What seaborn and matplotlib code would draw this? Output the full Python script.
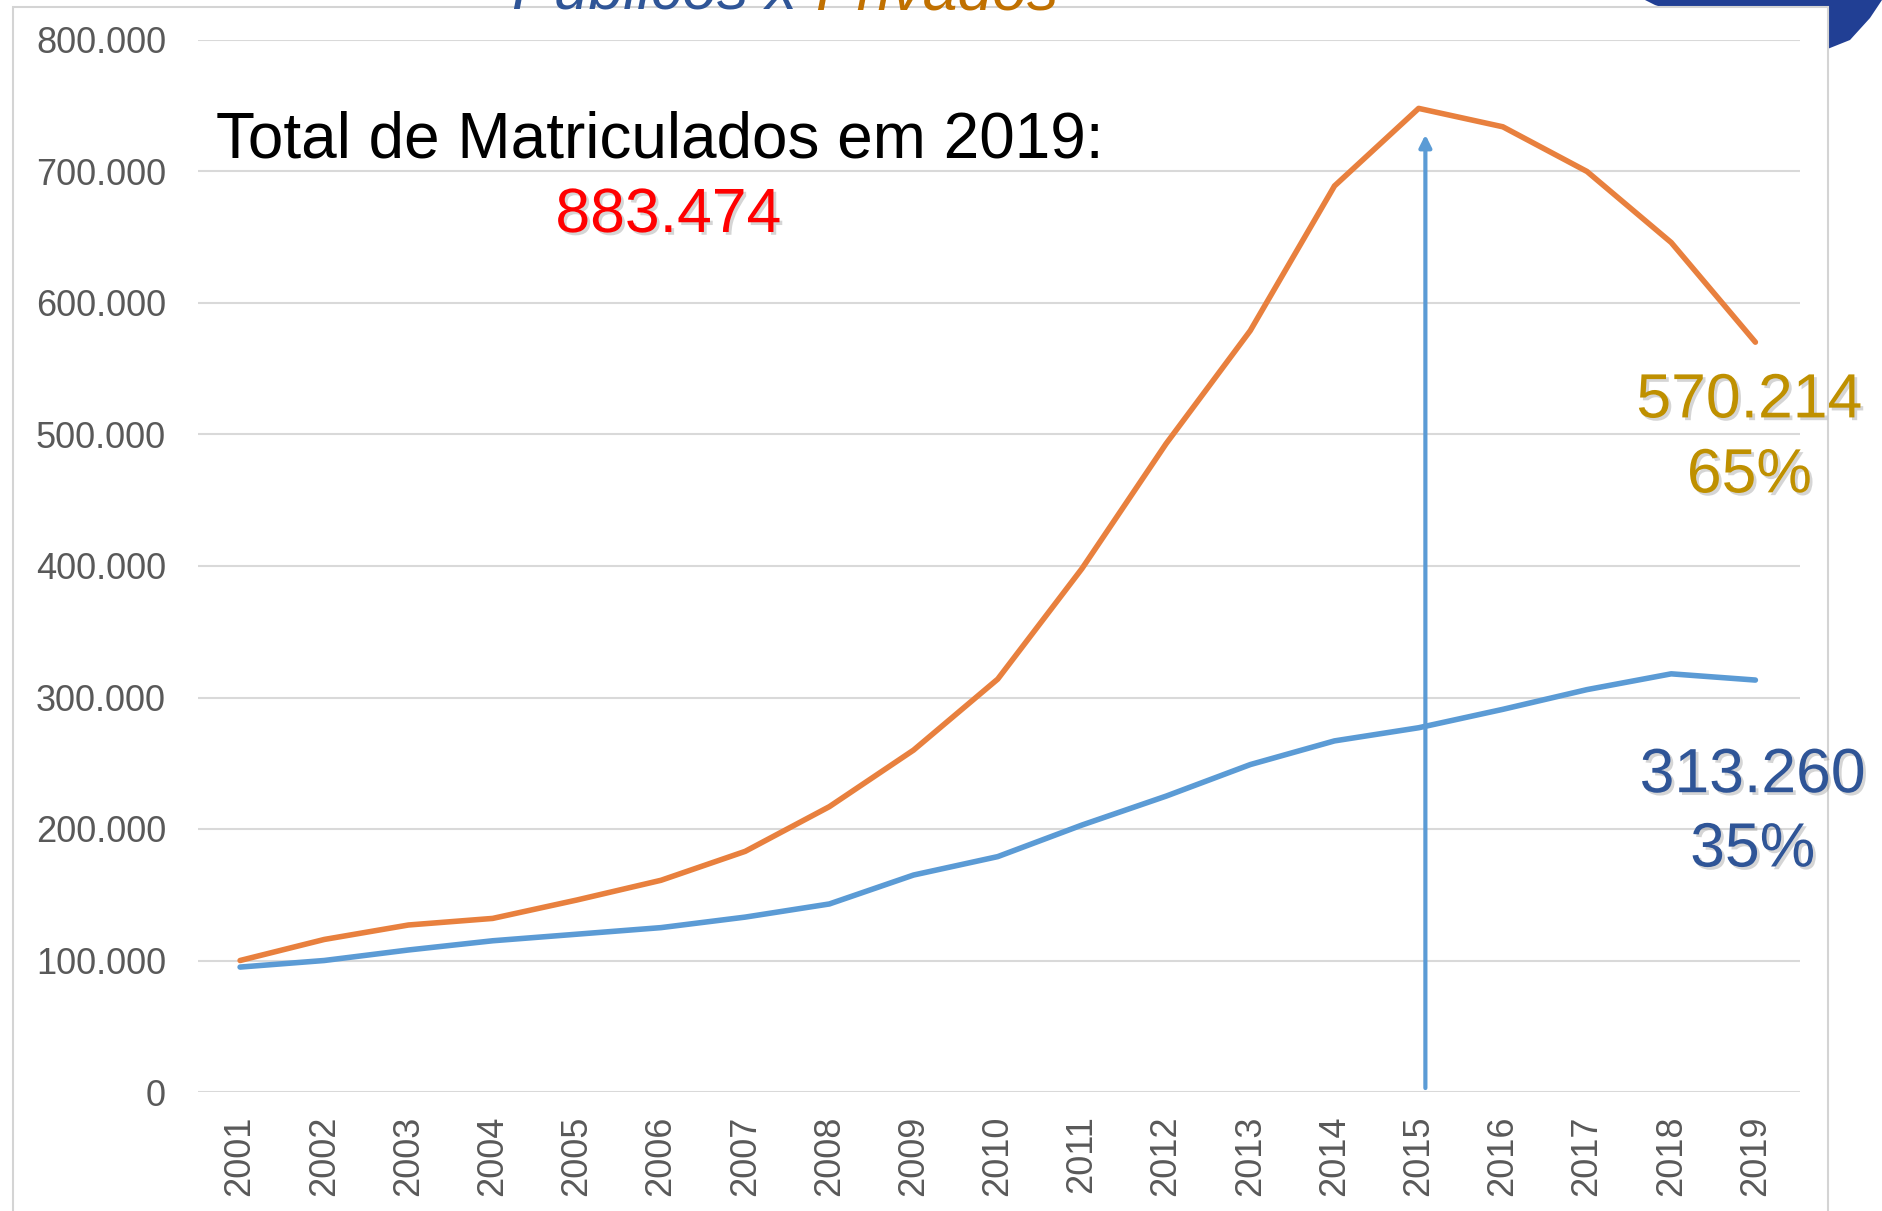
import matplotlib
matplotlib.use("Agg")
import matplotlib.pyplot as plt
import matplotlib.patheffects as pe
from matplotlib.patches import Rectangle, Polygon
import seaborn as sns
import pandas as pd

# ---------------- data ----------------
years = list(range(2001, 2020))
privados = [100000, 116000, 127000, 132000, 146000, 161000, 183000, 217000, 260000, 314000,
            398000, 493000, 579000, 689000, 748000, 734000, 700000, 646000, 570214]
publicos = [95000, 100000, 108000, 115000, 120000, 125000, 133000, 143000, 165000, 179000,
            203000, 225000, 249000, 267000, 277000, 291000, 306000, 318000, 313260]
ytick_values = [0, 100000, 200000, 300000, 400000, 500000, 600000, 700000, 800000]
ytick_labels = ["0", "100.000", "200.000", "300.000", "400.000", "500.000",
                "600.000", "700.000", "800.000"]
title_parts = ["Públicos x", "Privados"]
total_label = "Total de Matriculados em 2019:"
total_value = "883.474"
priv_labels = ["570.214", "65%"]
pub_labels = ["313.260", "35%"]
arrow_year = 2015
arrow_top = 728000

df = pd.DataFrame({"ano": years * 2,
                   "matriculas": privados + publicos,
                   "tipo": ["Privados"] * len(years) + ["Públicos"] * len(years)})

# ---------------- style ----------------
sns.set_theme(style="white")
plt.rcParams["font.family"] = ["Liberation Sans", "DejaVu Sans"]

W, H = 1882, 1211
fig = plt.figure(figsize=(W / 100, H / 100), dpi=100)
fig.patch.set_facecolor("white")

def fx(px):
    return px / W

def fy(py):
    return 1 - py / H

# decorative logo piece at top right (behind frame)
logo = Polygon([(fx(1645), fy(0)), (fx(1882), fy(0)), (fx(1870), fy(18)), (fx(1850), fy(40)),
                (fx(1820), fy(52)), (fx(1780), fy(48)), (fx(1730), fy(32)), (fx(1685), fy(15)),
                (fx(1655), fy(5))],
               closed=True, transform=fig.transFigure, facecolor="#213f94",
               edgecolor="none", zorder=0)
fig.patches.append(logo)

# white slide frame with light grey border
frame = Rectangle((fx(13), fy(1215)), fx(1828) - fx(13), fy(7) - fy(1215),
                  transform=fig.transFigure, facecolor="white", edgecolor="#d4d4d4",
                  lw=1.5, zorder=1)
fig.patches.append(frame)

# cut-off title at the very top
fig.text(fx(797), fy(9), title_parts[0], color="#2F5597", fontsize=45, style="italic",
         ha="right", va="baseline", zorder=3)
fig.text(fx(815), fy(9), title_parts[1], color="#C07000", fontsize=45, style="italic",
         ha="left", va="baseline", zorder=3)

ax = fig.add_axes([fx(198), fy(1092), fx(1800) - fx(198), fy(40) - fy(1092)])
ax.set_facecolor("none")
ax.set_zorder(2)

palette = {"Privados": "#E8803E", "Públicos": "#5B9BD5"}
sns.lineplot(data=df, x="ano", y="matriculas", hue="tipo", palette=palette,
             linewidth=4.0, ax=ax, legend=False, zorder=3)

ax.set_xlim(2000.5, 2019.53)
ax.set_ylim(0, 800000)
ax.set_xticks(years)
ax.set_xticklabels([str(y) for y in years], rotation=90)
ax.set_yticks(ytick_values)
ax.set_yticklabels(ytick_labels)
ax.tick_params(axis="both", length=0, labelsize=26, colors="#595959")
ax.tick_params(axis="y", pad=23)
ax.tick_params(axis="x", pad=17)
ax.set_xlabel("")
ax.set_ylabel("")
for s in ax.spines.values():
    s.set_visible(False)
ax.yaxis.grid(True, color="#d9d9d9", lw=1.5)
ax.xaxis.grid(False)
ax.set_axisbelow(True)

# vertical arrow at 2015
ax.annotate("", xy=(arrow_year + 0.08, arrow_top), xytext=(arrow_year + 0.08, 3000),
            arrowprops=dict(arrowstyle="-|>", color="#5B9BD5", lw=3.0,
                            mutation_scale=18, shrinkA=0, shrinkB=0),
            zorder=5)

shadow = [pe.SimplePatchShadow(offset=(2, -2), shadow_rgbFace="#888888", alpha=0.35),
          pe.Normal()]

ax.text(2000.71, 711000, total_label, fontsize=46, color="black", ha="left",
        va="baseline", zorder=6)
ax.text(2006.09, 654000, total_value, fontsize=45, color="#FF0000", ha="center",
        va="baseline", path_effects=shadow, zorder=6)

ax.text(2018.93, 513000, priv_labels[0], fontsize=45, color="#BF9000", ha="center",
        va="baseline", path_effects=shadow, clip_on=False, zorder=6)
ax.text(2018.93, 456000, priv_labels[1], fontsize=45, color="#BF9000", ha="center",
        va="baseline", path_effects=shadow, clip_on=False, zorder=6)
ax.text(2018.97, 228000, pub_labels[0], fontsize=45, color="#2F5597", ha="center",
        va="baseline", path_effects=shadow, clip_on=False, zorder=6)
ax.text(2018.97, 171500, pub_labels[1], fontsize=45, color="#2F5597", ha="center",
        va="baseline", path_effects=shadow, clip_on=False, zorder=6)

fig.savefig("out.png", dpi=100)
